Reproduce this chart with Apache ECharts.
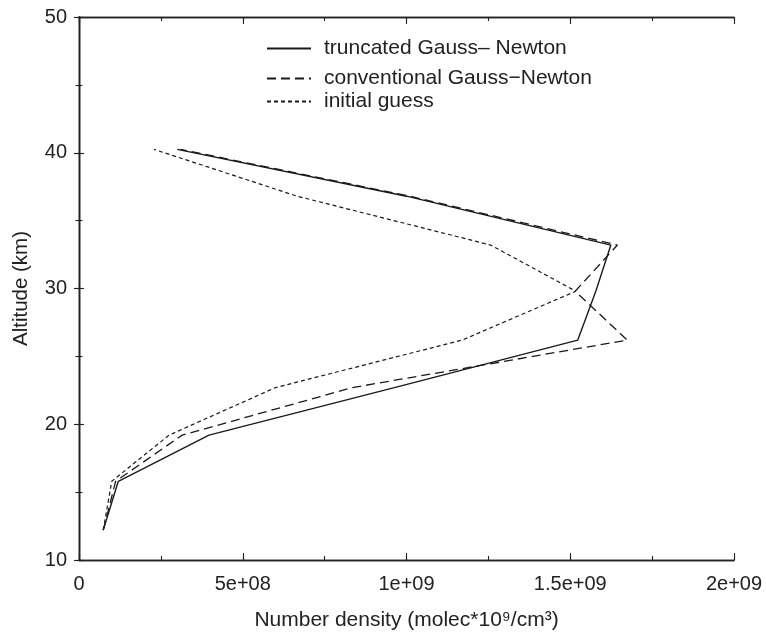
<!DOCTYPE html>
<html>
<head>
<meta charset="utf-8">
<script src="https://cdn.jsdelivr.net/npm/echarts@6/dist/echarts.min.js"></script>
<style>html,body{margin:0;padding:0;background:#fff}#c{width:766px;height:636px}</style>
</head>
<body>
<div id="c"></div>
<script>
var altitudes = [12.2, 15.8, 19.2, 22.7, 26.2, 29.8, 33.2, 36.8, 40.25];
var truncatedGN = [0.074e9, 0.12e9, 0.397e9, 0.963e9, 1.523e9, 1.578e9, 1.624e9, 1.0e9, 0.30e9];
var conventionalGN = [0.074e9, 0.112e9, 0.315e9, 0.835e9, 1.674e9, 1.515e9, 1.644e9, 1.01e9, 0.31e9];
var initialGuess = [0.074e9, 0.10e9, 0.275e9, 0.60e9, 1.170e9, 1.517e9, 1.257e9, 0.666e9, 0.229e9];
var xTickLabels = ['0', '5e+08', '1e+09', '1.5e+09', '2e+09'];
var yTickLabels = ['10', '20', '30', '40', '50'];
var seriesNames = ['truncated Gauss\u2013 Newton', 'conventional Gauss\u2212Newton', 'initial guess'];

function pairs(xs) { return xs.map(function (x, i) { return [x, altitudes[i]]; }); }

var FONT = 'Liberation Sans, Arial, sans-serif';
var axisColor = '#222';
var chart = echarts.init(document.getElementById('c'));

function legendAt(name, top) {
  return {
    data: [name], left: 261, top: top, itemWidth: 44, itemHeight: 14,
    itemStyle: { color: 'rgba(0,0,0,0)', borderWidth: 0 },
    textStyle: { fontFamily: FONT, fontSize: 21, color: '#222', padding: [0, 0, 0, 8] }
  };
}

function xAx(pos, interval, tickLen, labels) {
  return {
    type: 'value', min: 0, max: 2e9, interval: interval, position: pos,
    name: labels ? 'Number density (molec*10\u2079/cm\u00b3)' : '', nameLocation: 'middle', nameGap: 50,
    nameTextStyle: { fontFamily: FONT, fontSize: 21, color: '#222' },
    axisLine: { show: true, lineStyle: { color: axisColor, width: 1.3 } },
    axisTick: { show: true, inside: true, length: tickLen, lineStyle: { color: axisColor, width: 1.1 } },
    axisLabel: { show: labels, fontFamily: FONT, fontSize: 20, color: '#222', margin: 14,
      formatter: function (v) { return xTickLabels[Math.round(v / 5e8)]; } },
    splitLine: { show: false }
  };
}
function yAx(pos, interval, tickLen, labels) {
  return {
    type: 'value', min: 10, max: 50, interval: interval, position: pos,
    name: labels ? 'Altitude (km)' : '', nameLocation: 'middle', nameGap: 47,
    nameTextStyle: { fontFamily: FONT, fontSize: 20.5, color: '#222' },
    axisLine: { show: true, lineStyle: { color: axisColor, width: 1.3 } },
    axisTick: { show: true, inside: true, length: tickLen, lineStyle: { color: axisColor, width: 1.1 } },
    axisLabel: { show: labels, fontFamily: FONT, fontSize: 20, color: '#222', margin: 12,
      formatter: function (v) { return yTickLabels[Math.round((v - 10) / 10)]; } },
    splitLine: { show: false }
  };
}

chart.setOption({
  animation: false,
  backgroundColor: '#fff',
  grid: { left: 79, right: 32, top: 17, bottom: 73 },
  legend: [legendAt(seriesNames[0], 33), legendAt(seriesNames[1], 63), legendAt(seriesNames[2], 86)],
  xAxis: [xAx('bottom', 5e8, 7, true), xAx('bottom', 2.5e8, 4, false), xAx('top', 5e8, 7, false), xAx('top', 2.5e8, 4, false)],
  yAxis: [yAx('left', 10, 5, true), yAx('left', 5, 3.5, false), yAx('right', 10, 5, false), yAx('right', 5, 3.5, false)],
  series: [{
    name: seriesNames[0], type: 'line', data: pairs(truncatedGN), symbol: 'none',
    lineStyle: { color: '#1a1a1a', width: 1.4, type: 'solid' }, itemStyle: { color: '#1a1a1a' }
  }, {
    name: seriesNames[1], type: 'line', data: pairs(conventionalGN), symbol: 'none',
    lineStyle: { color: '#1a1a1a', width: 1.3, type: [9, 5] }, itemStyle: { color: '#1a1a1a' }
  }, {
    name: seriesNames[2], type: 'line', data: pairs(initialGuess), symbol: 'none',
    lineStyle: { color: '#1a1a1a', width: 1.2, type: [4, 3] }, itemStyle: { color: '#1a1a1a' }
  }]
});
</script>
</body>
</html>
